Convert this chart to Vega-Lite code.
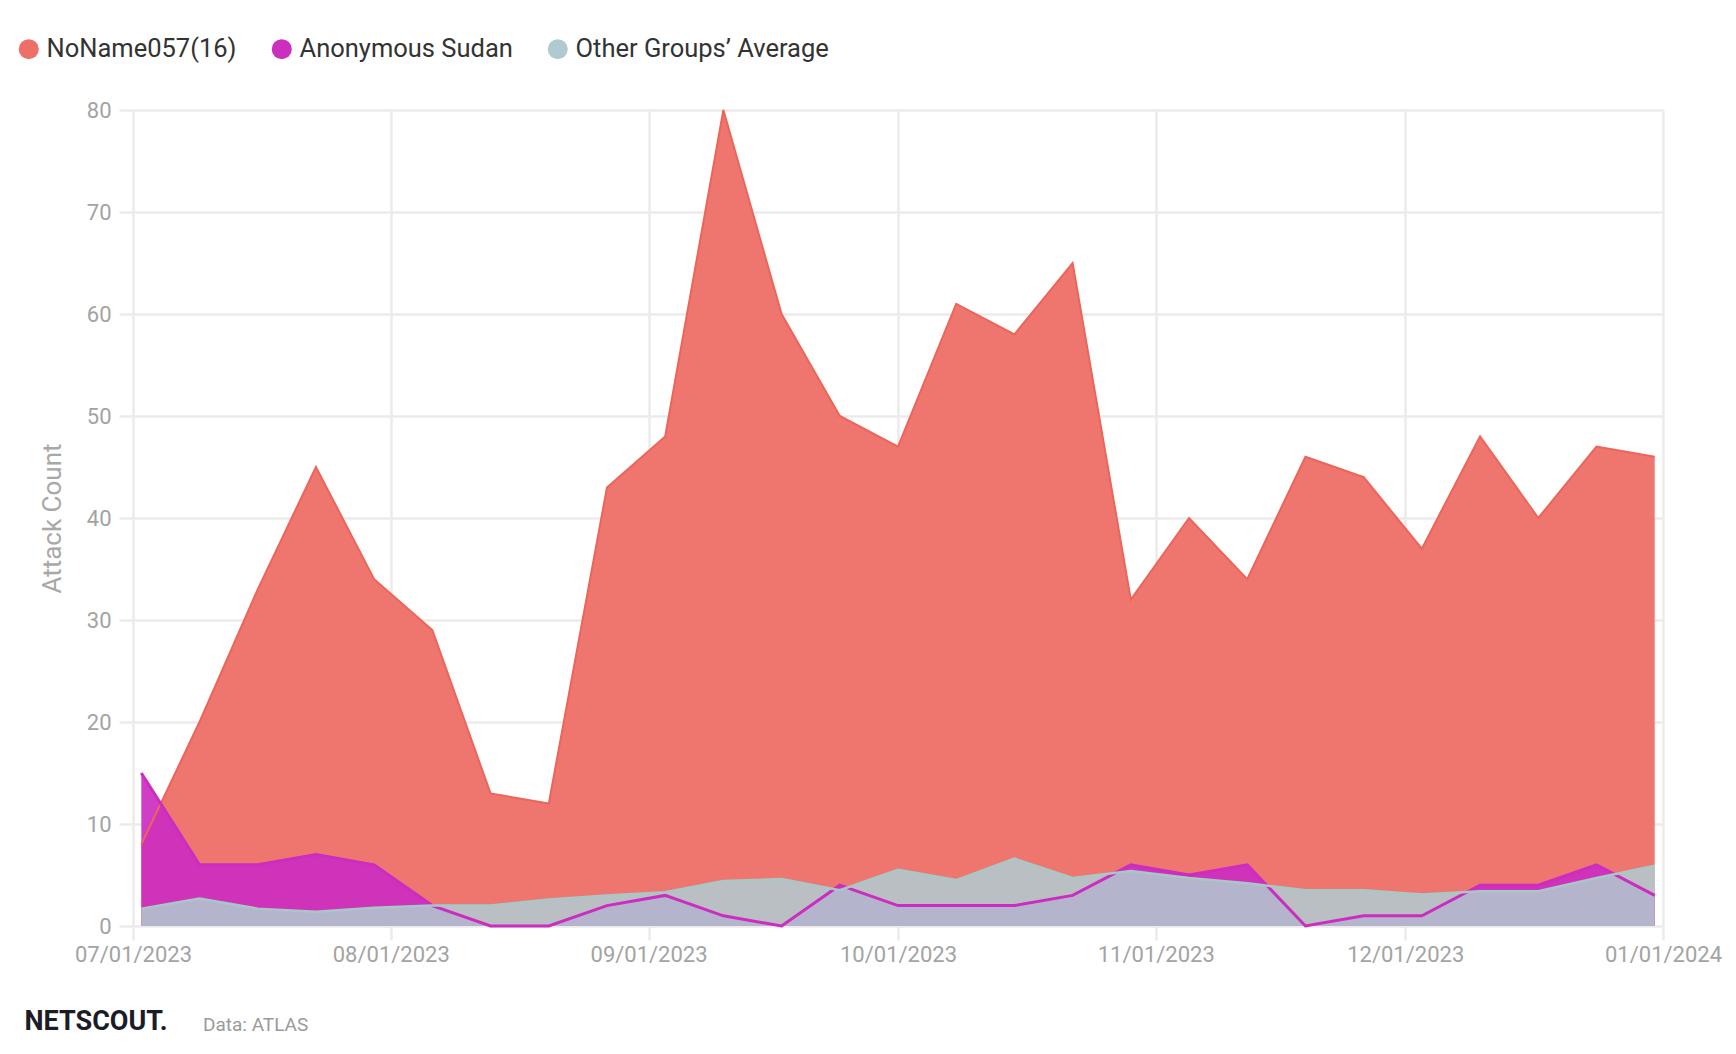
{
  "$schema": "https://vega.github.io/schema/vega-lite/v6.json",
  "width": 1530,
  "height": 816,
  "autosize": {"type": "none"},
  "padding": {"left": 133, "top": 110, "right": 73, "bottom": 128},
  "background": "white",
  "config": {"view": {"stroke": null}, "font": "Roboto"},
  "title": {
    "text": "Data: ATLAS",
    "orient": "bottom",
    "anchor": "start",
    "frame": "group",
    "dx": 70,
    "dy": -18,
    "offset": 0,
    "font": "Roboto",
    "fontSize": 19,
    "fontWeight": "normal",
    "color": "#9a9a9a"
  },
  "data": {
    "values": [
      {"date": "2023-07-02", "series": "NoName057(16)", "value": 8},
      {"date": "2023-07-09", "series": "NoName057(16)", "value": 20},
      {"date": "2023-07-16", "series": "NoName057(16)", "value": 33},
      {"date": "2023-07-23", "series": "NoName057(16)", "value": 45},
      {"date": "2023-07-30", "series": "NoName057(16)", "value": 34},
      {"date": "2023-08-06", "series": "NoName057(16)", "value": 29},
      {"date": "2023-08-13", "series": "NoName057(16)", "value": 13},
      {"date": "2023-08-20", "series": "NoName057(16)", "value": 12},
      {"date": "2023-08-27", "series": "NoName057(16)", "value": 43},
      {"date": "2023-09-03", "series": "NoName057(16)", "value": 48},
      {"date": "2023-09-10", "series": "NoName057(16)", "value": 80},
      {"date": "2023-09-17", "series": "NoName057(16)", "value": 60},
      {"date": "2023-09-24", "series": "NoName057(16)", "value": 50},
      {"date": "2023-10-01", "series": "NoName057(16)", "value": 47},
      {"date": "2023-10-08", "series": "NoName057(16)", "value": 61},
      {"date": "2023-10-15", "series": "NoName057(16)", "value": 58},
      {"date": "2023-10-22", "series": "NoName057(16)", "value": 65},
      {"date": "2023-10-29", "series": "NoName057(16)", "value": 32},
      {"date": "2023-11-05", "series": "NoName057(16)", "value": 40},
      {"date": "2023-11-12", "series": "NoName057(16)", "value": 34},
      {"date": "2023-11-19", "series": "NoName057(16)", "value": 46},
      {"date": "2023-11-26", "series": "NoName057(16)", "value": 44},
      {"date": "2023-12-03", "series": "NoName057(16)", "value": 37},
      {"date": "2023-12-10", "series": "NoName057(16)", "value": 48},
      {"date": "2023-12-17", "series": "NoName057(16)", "value": 40},
      {"date": "2023-12-24", "series": "NoName057(16)", "value": 47},
      {"date": "2023-12-31", "series": "NoName057(16)", "value": 46},
      {"date": "2023-07-02", "series": "Anonymous Sudan", "value": 15},
      {"date": "2023-07-09", "series": "Anonymous Sudan", "value": 6},
      {"date": "2023-07-16", "series": "Anonymous Sudan", "value": 6},
      {"date": "2023-07-23", "series": "Anonymous Sudan", "value": 7},
      {"date": "2023-07-30", "series": "Anonymous Sudan", "value": 6},
      {"date": "2023-08-06", "series": "Anonymous Sudan", "value": 2},
      {"date": "2023-08-13", "series": "Anonymous Sudan", "value": 0},
      {"date": "2023-08-20", "series": "Anonymous Sudan", "value": 0},
      {"date": "2023-08-27", "series": "Anonymous Sudan", "value": 2},
      {"date": "2023-09-03", "series": "Anonymous Sudan", "value": 3},
      {"date": "2023-09-10", "series": "Anonymous Sudan", "value": 1},
      {"date": "2023-09-17", "series": "Anonymous Sudan", "value": 0},
      {"date": "2023-09-24", "series": "Anonymous Sudan", "value": 4},
      {"date": "2023-10-01", "series": "Anonymous Sudan", "value": 2},
      {"date": "2023-10-08", "series": "Anonymous Sudan", "value": 2},
      {"date": "2023-10-15", "series": "Anonymous Sudan", "value": 2},
      {"date": "2023-10-22", "series": "Anonymous Sudan", "value": 3},
      {"date": "2023-10-29", "series": "Anonymous Sudan", "value": 6},
      {"date": "2023-11-05", "series": "Anonymous Sudan", "value": 5},
      {"date": "2023-11-12", "series": "Anonymous Sudan", "value": 6},
      {"date": "2023-11-19", "series": "Anonymous Sudan", "value": 0},
      {"date": "2023-11-26", "series": "Anonymous Sudan", "value": 1},
      {"date": "2023-12-03", "series": "Anonymous Sudan", "value": 1},
      {"date": "2023-12-10", "series": "Anonymous Sudan", "value": 4},
      {"date": "2023-12-17", "series": "Anonymous Sudan", "value": 4},
      {"date": "2023-12-24", "series": "Anonymous Sudan", "value": 6},
      {"date": "2023-12-31", "series": "Anonymous Sudan", "value": 3},
      {"date": "2023-07-02", "series": "Other Groups’ Average", "value": 1.7},
      {"date": "2023-07-09", "series": "Other Groups’ Average", "value": 2.7},
      {"date": "2023-07-16", "series": "Other Groups’ Average", "value": 1.7},
      {"date": "2023-07-23", "series": "Other Groups’ Average", "value": 1.4},
      {"date": "2023-07-30", "series": "Other Groups’ Average", "value": 1.8},
      {"date": "2023-08-06", "series": "Other Groups’ Average", "value": 2.0},
      {"date": "2023-08-13", "series": "Other Groups’ Average", "value": 2.0},
      {"date": "2023-08-20", "series": "Other Groups’ Average", "value": 2.6},
      {"date": "2023-08-27", "series": "Other Groups’ Average", "value": 3.0},
      {"date": "2023-09-03", "series": "Other Groups’ Average", "value": 3.3},
      {"date": "2023-09-10", "series": "Other Groups’ Average", "value": 4.4},
      {"date": "2023-09-17", "series": "Other Groups’ Average", "value": 4.6},
      {"date": "2023-09-24", "series": "Other Groups’ Average", "value": 3.5},
      {"date": "2023-10-01", "series": "Other Groups’ Average", "value": 5.5},
      {"date": "2023-10-08", "series": "Other Groups’ Average", "value": 4.5},
      {"date": "2023-10-15", "series": "Other Groups’ Average", "value": 6.6},
      {"date": "2023-10-22", "series": "Other Groups’ Average", "value": 4.7},
      {"date": "2023-10-29", "series": "Other Groups’ Average", "value": 5.4},
      {"date": "2023-11-05", "series": "Other Groups’ Average", "value": 4.7},
      {"date": "2023-11-12", "series": "Other Groups’ Average", "value": 4.2},
      {"date": "2023-11-19", "series": "Other Groups’ Average", "value": 3.5},
      {"date": "2023-11-26", "series": "Other Groups’ Average", "value": 3.5},
      {"date": "2023-12-03", "series": "Other Groups’ Average", "value": 3.1},
      {"date": "2023-12-10", "series": "Other Groups’ Average", "value": 3.4},
      {"date": "2023-12-17", "series": "Other Groups’ Average", "value": 3.4},
      {"date": "2023-12-24", "series": "Other Groups’ Average", "value": 4.7},
      {"date": "2023-12-31", "series": "Other Groups’ Average", "value": 5.9}
    ]
  },
  "encoding": {
    "x": {
      "field": "date",
      "type": "temporal",
      "scale": {
        "type": "utc",
        "domain": [
          {"year": 2023, "month": 7, "date": 1, "utc": true},
          {"year": 2024, "month": 1, "date": 1, "utc": true}
        ]
      },
      "axis": {
        "values": [
          {"year": 2023, "month": 7, "date": 1, "utc": true},
          {"year": 2023, "month": 8, "date": 1, "utc": true},
          {"year": 2023, "month": 9, "date": 1, "utc": true},
          {"year": 2023, "month": 10, "date": 1, "utc": true},
          {"year": 2023, "month": 11, "date": 1, "utc": true},
          {"year": 2023, "month": 12, "date": 1, "utc": true},
          {"year": 2024, "month": 1, "date": 1, "utc": true}
        ],
        "format": "%m/%d/%Y",
        "domain": false,
        "grid": true,
        "gridColor": "#ebebeb",
        "gridWidth": 2.5,
        "ticks": true,
        "tickColor": "#ebebeb",
        "tickWidth": 2.5,
        "tickSize": 14,
        "labelFont": "Roboto",
        "labelFontSize": 22,
        "labelColor": "#a3a3a3",
        "labelPadding": 4,
        "labelOverlap": false,
        "labelBound": false,
        "labelFlush": false,
        "title": "NETSCOUT.",
        "titleX": -109,
        "titleY": 95,
        "titleAlign": "left",
        "titleBaseline": "middle",
        "titleFont": "Roboto",
        "titleFontSize": 27,
        "titleFontWeight": "bold",
        "titleColor": "#1c1c28"
      }
    },
    "y": {
      "field": "value",
      "type": "quantitative",
      "scale": {"domain": [0, 80], "nice": false},
      "axis": {
        "values": [0, 10, 20, 30, 40, 50, 60, 70, 80],
        "domain": false,
        "grid": true,
        "gridColor": "#ebebeb",
        "gridWidth": 2.5,
        "ticks": true,
        "tickColor": "#ebebeb",
        "tickWidth": 2.5,
        "tickSize": 14,
        "labelFont": "Roboto",
        "labelFontSize": 22,
        "labelColor": "#a3a3a3",
        "labelPadding": 8,
        "title": "Attack Count",
        "titleX": -81,
        "titleY": 408,
        "titleAngle": -90,
        "titleAlign": "center",
        "titleBaseline": "middle",
        "titleFont": "Roboto",
        "titleFontSize": 26,
        "titleFontWeight": "normal",
        "titleColor": "#a8a8a8"
      }
    }
  },
  "layer": [
    {
      "transform": [{"filter": "datum.series === 'NoName057(16)'"}],
      "mark": {"type": "area", "fillOpacity": 0.95},
      "encoding": {
        "color": {
          "field": "series",
          "type": "nominal",
          "scale": {
            "domain": ["NoName057(16)", "Anonymous Sudan", "Other Groups’ Average"],
            "range": ["#ee6f67", "#cc2ec0", "#b0cbcf"]
          },
          "legend": {
            "orient": "none",
            "legendX": -117,
            "legendY": -74,
            "direction": "horizontal",
            "title": null,
            "symbolType": "circle",
            "symbolSize": 400,
            "symbolStrokeWidth": 0,
            "symbolOpacity": 1,
            "labelFont": "Roboto",
            "labelFontSize": 25.5,
            "labelColor": "#333333",
            "labelOffset": 5,
            "columnPadding": 32,
            "labelLimit": 400
          }
        }
      }
    },
    {
      "transform": [{"filter": "datum.series === 'Anonymous Sudan'"}],
      "mark": {"type": "area", "fillOpacity": 0.92},
      "encoding": {
        "color": {"field": "series", "type": "nominal"}
      }
    },
    {
      "transform": [{"filter": "datum.series === 'Other Groups’ Average'"}],
      "mark": {"type": "area", "fillOpacity": 0.86},
      "encoding": {
        "color": {"field": "series", "type": "nominal"}
      }
    },
    {
      "transform": [{"filter": "datum.series === 'NoName057(16)'"}],
      "mark": {"type": "line", "color": "#ec6558", "strokeWidth": 2}
    },
    {
      "transform": [{"filter": "datum.series === 'Anonymous Sudan'"}],
      "mark": {"type": "line", "color": "#cc2cc0", "strokeWidth": 3}
    },
    {
      "transform": [{"filter": "datum.series === 'Other Groups’ Average'"}],
      "mark": {"type": "line", "color": "#a8c8c8", "strokeWidth": 2.5}
    }
  ]
}
